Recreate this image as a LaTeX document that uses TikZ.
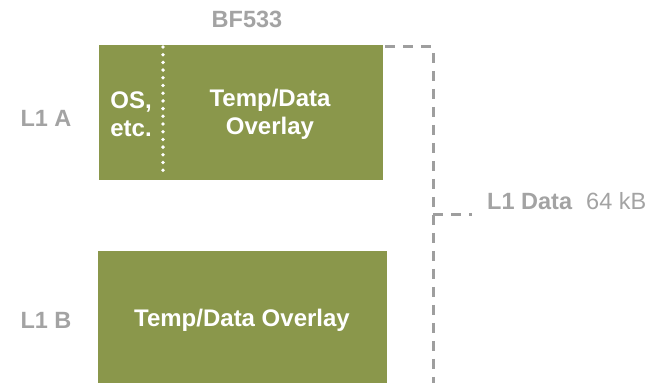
\documentclass[tikz,border=0pt]{standalone}
\usepackage{fontspec}
\setmainfont{Liberation Sans}
\definecolor{olive}{HTML}{8A974B}
\definecolor{labelgray}{HTML}{A3A3A3}
\definecolor{linegray}{HTML}{9E9E9E}
\tikzset{
  membox/.style={fill=olive, draw=none, inner sep=0pt, anchor=north west},
  boxtext/.style={text=white, font=\fontsize{24}{28}\selectfont\bfseries, align=center, inner sep=0pt},
  banklabel/.style={text=labelgray, font=\fontsize{23.5}{28}\selectfont\bfseries, inner sep=0pt},
  bracket/.style={draw=linegray, line width=3pt, dash pattern=on 10pt off 8pt},
  divider/.style={draw=white, line width=3.8pt, line cap=round, dash pattern=on 0pt off 7.7pt}
}
\begin{document}
\begin{tikzpicture}[x=1pt, y=-1pt]
  \useasboundingbox (0,0) rectangle (655,383);

  % memory banks
  \node[membox, minimum width=284pt, minimum height=135pt] (bankA) at (99,45) {};
  \node[membox, minimum width=289pt, minimum height=132pt] (bankB) at (98,251) {};

  % partition inside bank A
  \coordinate (divtop) at (163,47);
  \coordinate (divbot) at (163,174);
  \draw[divider] (divtop) -- (divbot);

  \node[boxtext] (os) at (131,114) {OS,\\etc.};
  \node[boxtext] (ovA) at (270,114) {Temp/Data\\Overlay};
  \node[boxtext] (ovB) at (242,320) {Temp/Data Overlay};

  % titles
  \node[banklabel] (chip) at (247,19) {BF533};
  \node[banklabel] (lA) at (46,118) {L1 A};
  \node[banklabel] (lB) at (46,320) {L1 B};
  \node[banklabel, anchor=west] (l1data) at (487,201) {L1 Data\hspace{0.6em}\mdseries 64 kB};

  % bracket spanning both banks
  \coordinate (brTop) at (433,46.5);
  \coordinate (brBot) at (433,383);
  \coordinate (brMid) at (433,214);
  \coordinate (brTip) at (472,214);
  \draw[bracket] (bankA.north east) ++(2,1.5) -- (brTop) -- (brBot);
  \draw[bracket] (brMid) -- (brTip);
\end{tikzpicture}
\end{document}
